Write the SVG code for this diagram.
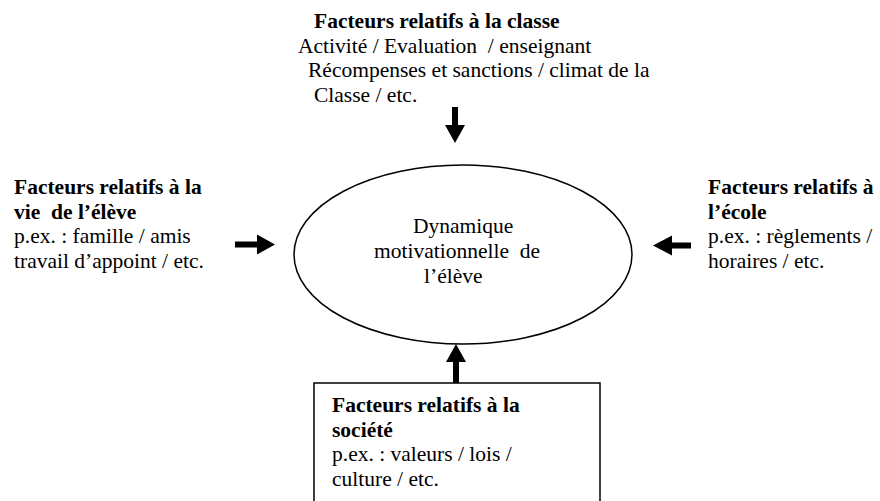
<svg xmlns="http://www.w3.org/2000/svg" width="880" height="501" viewBox="0 0 880 501">
<style>
text{font-family:"Liberation Serif","Times New Roman",serif;font-size:21.5px;fill:#000}
.b{font-weight:bold}
.arr{fill:#000;stroke:none}
</style>
<rect width="880" height="501" fill="#fff"/>
<g id="classe">
<text class="b" x="314" y="28">Facteurs relatifs à la classe</text>
<text x="298" y="52.5" xml:space="preserve">Activité / Evaluation  / enseignant</text>
<text x="308" y="77">Récompenses et sanctions / climat de la</text>
<text x="314" y="101.5">Classe / etc.</text>
</g>
<g id="vie-eleve">
<text class="b" x="14" y="194">Facteurs relatifs à la</text>
<text class="b" x="14" y="218.5" xml:space="preserve">vie  de l’élève</text>
<text x="14" y="243">p.ex. : famille / amis</text>
<text x="14" y="267.5">travail d’appoint / etc.</text>
</g>
<g id="ecole">
<text class="b" x="708" y="194">Facteurs relatifs à</text>
<text class="b" x="708" y="218.5">l’école</text>
<text x="708" y="243">p.ex. : règlements /</text>
<text x="708" y="267.5">horaires / etc.</text>
</g>
<g id="dynamique">
<ellipse cx="463" cy="254.5" rx="169" ry="89.5" fill="none" stroke="#000" stroke-width="1.5"/>
<text x="413" y="233">Dynamique</text>
<text x="374" y="258" xml:space="preserve">motivationnelle  de</text>
<text x="424" y="283">l’élève</text>
</g>
<g id="societe">
<rect x="314" y="383" width="286" height="130" fill="none" stroke="#000" stroke-width="1.5"/>
<text class="b" x="332" y="412">Facteurs relatifs à la</text>
<text class="b" x="332" y="436.5">société</text>
<text x="332" y="461">p.ex. : valeurs / lois /</text>
<text x="332" y="485.5">culture / etc.</text>
</g>
<g id="connectors">
<path class="arr" d="M452,107 H458 V125 H465 L455,143 L445,125 H452 Z"/>
<path class="arr" d="M235,241.5 H257 V234.5 L275,244.5 L257,254.5 V247.5 H235 Z"/>
<path class="arr" d="M691,242.5 H672 V235.5 L653,245.5 L672,255.5 V248.5 H691 Z"/>
<path class="arr" d="M453,383 V362 H446 L456,344 L466,362 H459 V383 Z"/>
</g>
</svg>
